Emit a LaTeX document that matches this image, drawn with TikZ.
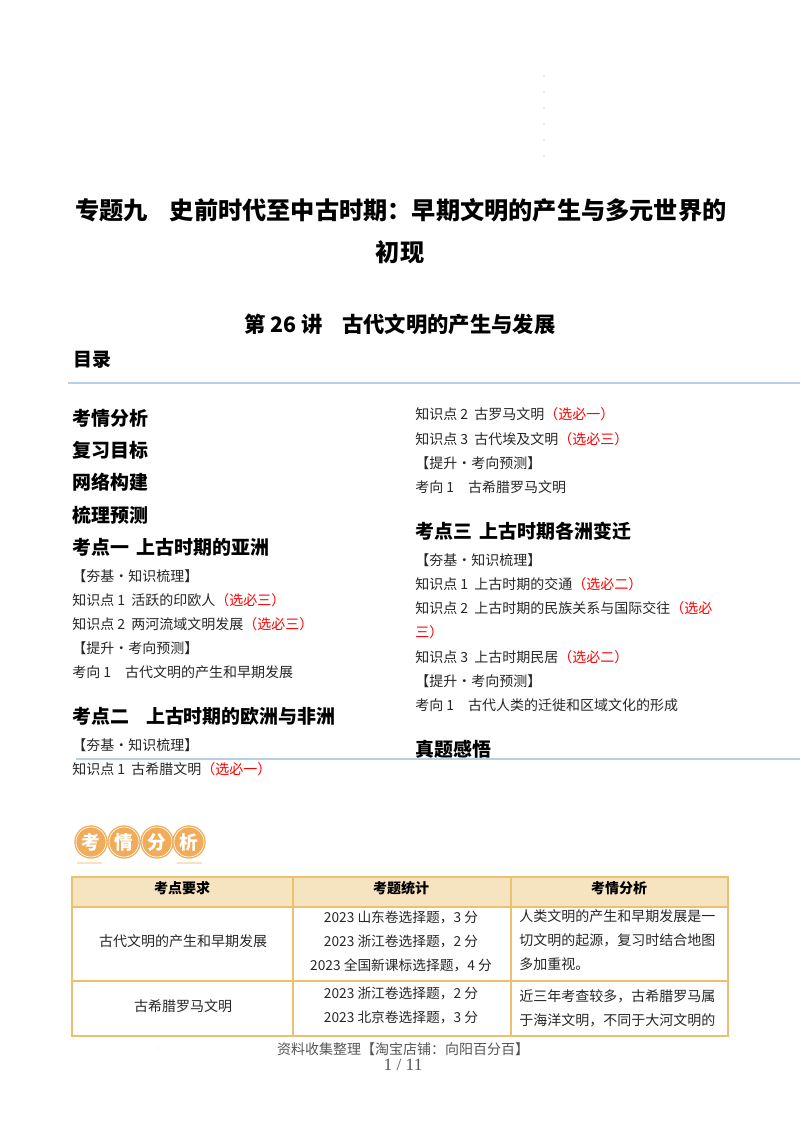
\documentclass[tikz,border=0pt]{standalone}
\usepackage{fontspec}
\setmainfont{Noto Sans CJK SC}
\newfontfamily\latinserif{Liberation Serif}
\definecolor{tableline}{HTML}{EBC070}
\definecolor{tablehead}{HTML}{F6E4C0}
\definecolor{badge}{HTML}{F0AC58}
\definecolor{ruleblue}{HTML}{B8D0E6}
\definecolor{footgray}{HTML}{555555}
\newcommand{\xuan}[1]{\textcolor{red}{（#1）}}
\tikzset{
	bigtitle/.style={font=\fontsize{18.15}{18}\selectfont\bfseries, inner sep=0pt},
	subtitle/.style={font=\fontsize{16}{16}\selectfont\bfseries, inner sep=0pt},
	tochead/.style={anchor=west, font=\fontsize{14.2}{14}\selectfont\bfseries, inner sep=0pt},
	tocline/.style={anchor=west, font=\fontsize{10.5}{10}\selectfont, text=black!85, inner sep=0pt},
	cellhead/.style={font=\fontsize{10.5}{10}\selectfont\bfseries, inner sep=0pt},
	celltext/.style={font=\fontsize{10.5}{10}\selectfont, text=black!85, inner sep=0pt},
	cellcount/.style={celltext, font=\fontsize{10.3}{10}\selectfont},
	celltextl/.style={celltext, anchor=west},
	footline/.style={font=\fontsize{10.5}{10.5}\selectfont, text=footgray, inner sep=0pt},
	badgedot/.style={circle, draw=white, line width=0.5pt, minimum size=22.5pt, inner sep=0pt, text=white, font=\fontsize{14}{14}\selectfont\bfseries},
}
\begin{document}
\begin{tikzpicture}[x=0.75pt, y=-0.75pt]
	\useasboundingbox (0,0) rectangle (800,1132);

	\foreach \dy in {76,92,108,124,140,156}
		\fill[black!35] (544,\dy) circle (0.6);

	\node[bigtitle] (title1) at (401,210) {专题九\hspace{0.9em}史前时代至中古时期：早期文明的产生与多元世界的};
	\node[bigtitle] (title2) at (400,252) {初现};
	\node[subtitle] (lecture) at (400,324) {第 26 讲\hspace{0.9em}古代文明的产生与发展};
	\node[tochead] (toc) at (73,359.5) {目录};
	\draw[ruleblue, line width=0.8pt] (68,383) -- (800,383);
	\draw[ruleblue, line width=0.8pt] (76,759) -- (800,759);

	\foreach \name/\ty/\txt in {a1/418/考情分析, a2/450/复习目标, a3/482/网络构建, a4/515/梳理预测, a5/547/考点一\hspace{0.4em}上古时期的亚洲, a6/716/考点二\hspace{0.9em}上古时期的欧洲与非洲}
		\node[tochead] (\name) at (72,\ty) {\txt};
	\foreach \name/\ty/\txt in {b1/531/考点三\hspace{0.4em}上古时期各洲变迁, b2/749/真题感悟}
		\node[tochead] (\name) at (415,\ty) {\txt};

	\node[tocline] (l1) at (72,576) {【夯基·知识梳理】};
	\node[tocline] (l2) at (72,600) {知识点 1\hspace{0.45em}活跃的印欧人\xuan{选必三}};
	\node[tocline] (l3) at (72,624) {知识点 2\hspace{0.45em}两河流域文明发展\xuan{选必三}};
	\node[tocline] (l4) at (72,648) {【提升·考向预测】};
	\node[tocline] (l5) at (72,672) {考向 1\hspace{1em}古代文明的产生和早期发展};
	\node[tocline] (l6) at (72,745) {【夯基·知识梳理】};
	\node[tocline] (l7) at (72,769) {知识点 1\hspace{0.45em}古希腊文明\xuan{选必一}};

	\node[tocline] (r1) at (415,414) {知识点 2\hspace{0.45em}古罗马文明\xuan{选必一}};
	\node[tocline] (r2) at (415,439) {知识点 3\hspace{0.45em}古代埃及文明\xuan{选必三}};
	\node[tocline] (r3) at (415,463) {【提升·考向预测】};
	\node[tocline] (r4) at (415,487) {考向 1\hspace{1em}古希腊罗马文明};
	\node[tocline] (r5) at (415,560) {【夯基·知识梳理】};
	\node[tocline] (r6) at (415,584) {知识点 1\hspace{0.45em}上古时期的交通\xuan{选必二}};
	\node[tocline] (r7) at (415,608) {知识点 2\hspace{0.45em}上古时期的民族关系与国际交往\textcolor{red}{（选必}};
	\node[tocline] (r8) at (415,632) {\textcolor{red}{三）}};
	\node[tocline] (r9) at (415,657) {知识点 3\hspace{0.45em}上古时期民居\xuan{选必二}};
	\node[tocline] (r10) at (415,681) {【提升·考向预测】};
	\node[tocline] (r11) at (415,705) {考向 1\hspace{1em}古代人类的迁徙和区域文化的形成};

	\foreach \bx/\bname/\btxt in {91/c1/考, 124/c2/情, 157/c3/分, 189/c4/析}{
		\fill[badge] (\bx,842) circle (16.7);
		\node[badgedot] (\bname) at (\bx,842) {\btxt};
	}
	\draw[tablehead, line width=1.2pt] (77,863) -- (102,863);
	\draw[tablehead, line width=1.2pt] (177,863) -- (202,863);

	\fill[tablehead] (72,877) rectangle (728,907);
	\draw[tableline, line width=1.1pt] (72,877) rectangle (728,1036);
	\draw[tableline, line width=0.8pt] (72,907) -- (728,907);
	\draw[tableline, line width=0.8pt] (72,981) -- (728,981);
	\draw[tableline, line width=0.8pt] (293,877) -- (293,1036);
	\draw[tableline, line width=0.8pt] (511,877) -- (511,1036);

	\node[cellhead] (h1) at (182,888) {考点要求};
	\node[cellhead] (h2) at (401,888) {考题统计};
	\node[cellhead] (h3) at (619,888) {考情分析};

	\node[celltext] (t1) at (183,941) {古代文明的产生和早期发展};
	\node[cellcount] (t2) at (401,917) {2023 山东卷选择题，3 分};
	\node[cellcount] (t3) at (401,941) {2023 浙江卷选择题，2 分};
	\node[cellcount] (t4) at (401,965) {2023 全国新课标选择题，4 分};
	\node[celltextl] (t5) at (519,916) {人类文明的产生和早期发展是一};
	\node[celltextl] (t6) at (519,940) {切文明的起源，复习时结合地图};
	\node[celltextl] (t7) at (519,964) {多加重视。};

	\node[celltext] (t8) at (183,1006) {古希腊罗马文明};
	\node[cellcount] (t9) at (401,993) {2023 浙江卷选择题，2 分};
	\node[cellcount] (t10) at (401,1017) {2023 北京卷选择题，3 分};
	\node[celltextl] (t11) at (519,996) {近三年考查较多，古希腊罗马属};
	\node[celltextl] (t12) at (519,1020) {于海洋文明，不同于大河文明的};

	\fill[black!40] (158,1048) circle (0.4);
	\node[footline] (foot1) at (403,1049) {资料收集整理【淘宝店铺：向阳百分百】};
	\node[footline, font=\latinserif\fontsize{13}{13}\selectfont] (foot2) at (403,1065) {1 / 11};
\end{tikzpicture}
\end{document}
